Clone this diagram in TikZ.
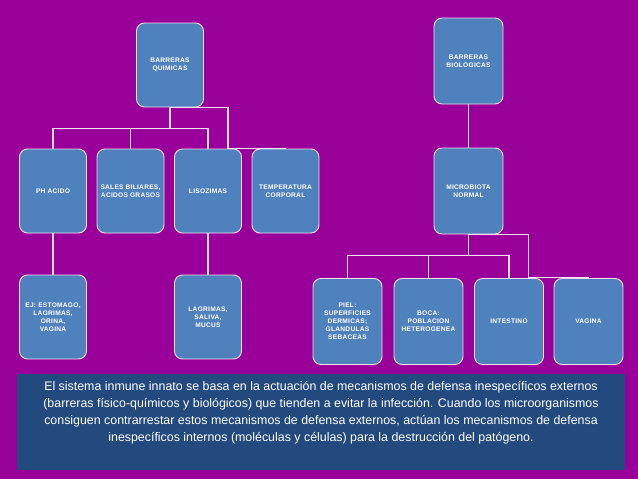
\documentclass[tikz,border=0pt]{standalone}
\usepackage{fontspec}
\setmainfont{Liberation Sans}
\newfontfamily\boxfont[LetterSpace=4]{Liberation Sans}
\usetikzlibrary{positioning, calc}
\definecolor{slide}{HTML}{990099}
\definecolor{boxfill}{HTML}{4F81BD}
\definecolor{boxedge}{HTML}{F2DCF2}
\definecolor{wire}{HTML}{F6DCF6}
\definecolor{note}{HTML}{234A7E}
\tikzset{
  ibbox/.style   = {draw=boxedge, line width=0.9pt, fill=boxfill, rounded corners=8pt,
                    minimum width=67pt, minimum height=84pt, align=center, inner sep=1pt,
                    text=white, font=\boxfont\fontsize{6.6}{8}\selectfont\bfseries},
  ibwide/.style  = {ibbox, minimum width=69pt, minimum height=86pt},
  iblink/.style  = {draw=wire, line width=1.6pt},
  ibpanel/.style = {fill=note, minimum width=608pt, minimum height=96pt, inner sep=0pt},
  ibtext/.style  = {text=white, align=center, inner sep=0pt,
                    font=\fontsize{12.4}{17}\selectfont},
}

\begin{document}
\begin{tikzpicture}[x=1pt, y=-1pt]

\fill[slide] (0,0) rectangle (638,479);

% chemical barriers
\node[ibbox] (quim) at (170,65)    {BARRERAS\\QUIMICAS};
\node[ibbox] (ph)    at (53,191)   {PH ACIDO};
\node[ibbox] (sales) at (130.5,191) {SALES BILIARES,\\ACIDOS GRASOS};
\node[ibbox] (liso)  at (208,191)  {LISOZIMAS};
\node[ibbox] (temp)  at (285.5,191) {TEMPERATURA\\CORPORAL};
\node[ibbox] (ej)    at (53,317)   {EJ: ESTOMAGO,\\LAGRIMAS,\\ORINA,\\VAGINA};
\node[ibbox] (lagr)  at (208,317)  {LAGRIMAS,\\SALIVA,\\MUCUS};

% biological barriers
\node[ibwide] (biol)  at (468.5,61)  {BARRERAS\\BIOLOGICAS};
\node[ibwide] (micro) at (468.5,191) {MICROBIOTA\\NORMAL};
\node[ibwide] (piel)  at (347.5,321.5) {PIEL:\\SUPERFICIES\\DERMICAS;\\GLANDULAS\\SEBACEAS};
\node[ibwide] (boca)  at (428.5,321.5) {BOCA:\\POBLACION\\HETEROGENEA};
\node[ibwide] (inte)  at (509,321.5)   {INTESTINO};
\node[ibwide] (vag)   at (588.5,321.5) {VAGINA};

\draw[iblink] (quim.south) -- ++(0,21) coordinate (qbus);
\foreach \n in {ph, sales, liso}{\draw[iblink] (qbus) -| (\n.north);}
\draw[iblink] (quim.south) -- ++(58,0) -- ++(0,41) -| (temp.north);
\draw[iblink] (ph) -- (ej);
\draw[iblink] (liso) -- (lagr);

\draw[iblink] (biol) -- (micro);
\draw[iblink] (micro.south) -- ++(0,21) coordinate (mbus);
\foreach \n in {piel, boca, inte}{\draw[iblink] (mbus) -| (\n.north);}
\draw[iblink] (micro.south) -- ++(60,0) -- ++(0,43) -| (vag.north);

% summary
\node[ibpanel] (panel) at (321,422) {};
\node[ibtext, below=7pt of panel.north] (summary)
  {El sistema inmune innato se basa en la actuación de mecanismos de defensa inespecíficos externos\\
   (barreras físico-químicos y biológicos) que tienden a evitar la infección. Cuando los microorganismos\\
   consiguen contrarrestar estos mecanismos de defensa externos, actúan los mecanismos de defensa\\
   inespecíficos internos (moléculas y células) para la destrucción del patógeno.};
\end{tikzpicture}
\end{document}
